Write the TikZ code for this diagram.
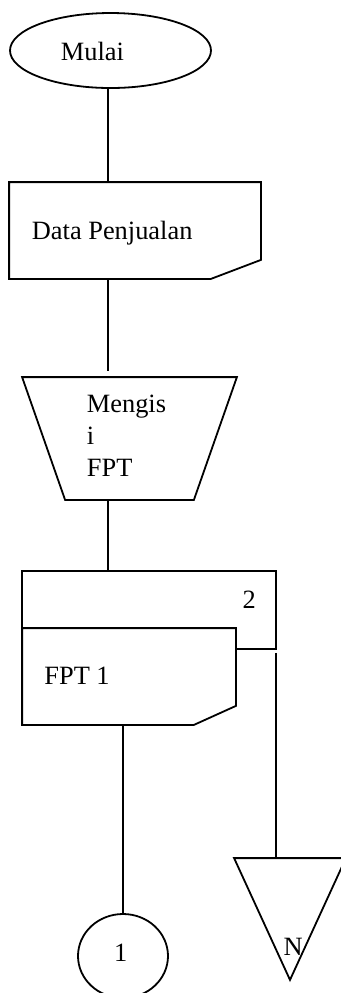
\documentclass[tikz,border=0pt]{standalone}
\usepackage{fontspec}
\setmainfont{Liberation Serif}
\usepackage{tikz}
\usetikzlibrary{positioning}
\usetikzlibrary{shapes.geometric}

\begin{document}
\begin{tikzpicture}[x=0.5pt,y=-0.5pt,line width=0.9pt,
 txt/.style={inner sep=0pt,font=\fontsize{13.2}{16}\selectfont},
 frame/.style={inner sep=0pt,minimum width=#1},
 term/.style={draw,ellipse,inner sep=0pt}]
 \useasboundingbox (0,0) rectangle (341,993);

 \node[term,minimum width=100.5pt,minimum height=37.5pt] (mulai) at (110.5,50.5) {};
 \node[txt,anchor=base west] (tmulai) at (60,60.7) {Mulai};

 \node[frame=125pt,minimum height=47.5pt] (data) at (135,230.5) {};
 \draw (data.south west) -- (data.north west) -- (data.north east) -- ([yshift=9.5pt]data.south east) -- ([xshift=-25pt]data.south east) -- cycle;
 \node[txt,anchor=base west] (tdata) at (31,239.3) {Data Penjualan};

 \node[frame=106.5pt,minimum height=60.5pt] (isi) at (129.5,438.5) {};
 \draw (isi.north west) -- (isi.north east) -- ([xshift=-21.5pt]isi.south east) -- ([xshift=21.5pt]isi.south west) -- cycle;
 \node[txt,anchor=north west,align=left] (tisi) at (86,394) {Mengis\\i\\FPT};

 \node[frame=106pt,minimum height=47.5pt] (fpt1) at (129,676.5) {};
 \node[frame=126pt,minimum height=38pt] (fpt2) at (149,610) {};
 \draw (fpt2.south west) -- (fpt2.north west) -- (fpt2.north east) -- (fpt2.south east) -- (fpt2.south east -| fpt1.east);
 \draw (fpt1.south west) -- (fpt1.north west) -- (fpt1.north east) -- ([yshift=9.5pt]fpt1.south east) -- ([xshift=-21pt]fpt1.south east) -- cycle;
 \node[txt,anchor=base west] (t2) at (241.7,608.3) {2};
 \node[txt,anchor=base west] (tfpt1) at (43.5,684.3) {FPT 1};

 \node[term,minimum width=45pt,minimum height=42pt] (one) at (123,956) {};
 \node[txt,anchor=base west] (tone) at (113.3,961.7) {1};

 \node[frame=55pt,minimum height=60pt] (tri) at (290,919) {};
 \draw (tri.north west) -- (tri.north east) -- (tri.south) -- cycle;
 \node[txt,anchor=base west] (tn) at (282.7,955) {N};

 \coordinate (axis) at (108,0);
 \draw (mulai.south -| axis) -- (data.north -| axis);
 \draw[shorten >=3pt] (data.south -| axis) -- (isi.north -| axis);
 \draw (isi.south -| axis) -- (fpt2.north -| axis);
 \draw (fpt1.south -| one.north) -- (one.north);
 \draw[shorten <=2pt] (fpt2.south east) -- (fpt2.south east |- tri.north);

\end{tikzpicture}
\end{document}
